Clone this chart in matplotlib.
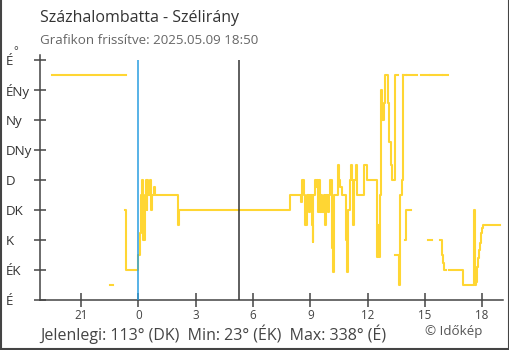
import numpy as np
import matplotlib.pyplot as plt
from matplotlib.lines import Line2D

plt.rcParams['font.family'] = ['Open Sans', 'DejaVu Sans']

nan = np.nan

# wind direction, hours from midnight (negative = previous evening), degrees
dir_a_time = [-4.52, -0.64, nan,
              -1.48, -1.33, nan,
              -0.72, -0.63, 0.00, 0.09, 0.14, 0.19, 0.23, 0.26, 0.34, 0.40,
              0.44, 0.47, 0.51, 0.61, 0.65, 0.66, 0.70, 0.82, 0.87, 2.06,
              2.15, 7.96, 8.50, 8.57, 8.69, 8.75, 8.82, 8.94, 8.99, 9.09,
              9.13, 9.16, 9.25, 9.28, 9.37, 9.41, 9.48, 9.51, 9.57, 9.63,
              9.71, 9.77, 9.82, 9.92, 9.97, 10.04, 10.12, 10.16, 10.21, 10.25,
              10.47, 10.52, 10.56, 10.68, 10.87, 10.94, 10.99, 11.10, 11.15, 11.20,
              11.26, 11.31, 11.40, 11.45, 11.83, 11.99, 12.48, 12.51, 12.53, 12.60,
              12.65, 12.69, 12.72, 12.78, 12.84, 12.89, 12.93, 13.09, 13.14, 13.21,
              13.26, 13.42, 13.45, 13.58, nan,
              13.87, 14.00, nan,
              14.07, 14.61, nan,
              14.82, 15.20, nan,
              15.29, 15.90, nan,
              15.95, 16.20]
dir_a_deg = [338, 338, nan,
             23, 23, nan,
             135, 45, 67.5, 100, 157.5, 180, 157.5, 90, 157.5, 180,
             135, 180, 157.5, 180, 157.5, 135, 157.5, 170, 157.5, 112.5,
             135, 157.5, 147, 180, 157.5, 112.5, 157.5, 132.5, 157.5, 112.5,
             87.5, 157.5, 180, 170, 180, 132.5, 180, 132.5, 157.5, 132.5,
             157.5, 112.5, 157.5, 132.5, 157.5, 180, 157.5, 78, 42.5, 157.5,
             202.5, 180, 170, 157.5, 90, 42.5, 135, 180, 202.5, 180,
             112.5, 180, 202.5, 157.5, 202.5, 180, 135, 65, 112.5, 65,
             157.5, 235, 315, 270, 295, 315, 338, 295, 237, 202.5,
             180, 315, 338, 338, nan,
             338, 338, nan,
             338, 338, nan,
             338, 338, nan,
             338, 338, nan,
             338, 338]

dir_b_time = [13.44, 13.67, 13.70, 13.80, 13.87, nan,
              13.96, 14.03, 14.26, nan,
              15.18, 15.35, nan,
              15.81, 15.92, 15.95, 16.00, 16.09, nan,
              16.28, 16.99, 17.55, 17.62, 17.66, 17.71, 17.74, 17.80, 17.85, 17.89,
              17.94, 17.99, 18.06, 18.94]
dir_b_deg = [67.5, 23, 157.5, 180, 338, nan,
             90, 135, 135, nan,
             90, 90, nan,
             90, 67.5, 56, 45, 45, nan,
             45, 23, 135, 23, 27.5, 40, 50, 62.5, 75, 85,
             100, 107.5, 113, 113]

compass = ['É', 'ÉK', 'K', 'DK', 'D', 'DNy', 'Ny', 'ÉNy', 'É']
compass_deg = [0, 45, 90, 135, 180, 225, 270, 315, 360]
hour_ticks = [-3, 0, 3, 6, 9, 12, 15, 18]
hour_labels = ['21', '0', '3', '6', '9', '12', '15', '18']
sunrise = 5.29


def sector(deg):
    return compass[int(((deg + 22.5) % 360) // 45)]


all_deg = np.array(dir_a_deg + dir_b_deg, dtype=float)
current = dir_b_deg[-1]
lo = np.nanmin(all_deg)
hi = np.nanmax(all_deg)

W, H = 510, 350
fig = plt.figure(figsize=(W / 100, H / 100), dpi=100)
ax = fig.add_axes([40 / W, 1 - 300 / H, (503 - 40) / W, (300 - 55) / H])

yellow = '#ffd633'
ax.plot(dir_a_time, dir_a_deg, drawstyle='steps-post', color=yellow, lw=1.5)
ax.plot(dir_b_time, dir_b_deg, drawstyle='steps-post', color=yellow, lw=1.5)

ax.vlines(0, 0, 360, color='#2a9ee0', lw=1.1, zorder=3)
ax.vlines(sunrise, 0, 360, color='#333333', lw=1.1, zorder=3)

ax.set_xlim(-5.15, 19.09)
ax.set_ylim(0, 367.5)

for s in ['top', 'right']:
    ax.spines[s].set_visible(False)
for s in ['left', 'bottom']:
    ax.spines[s].set_color('#444444')
    ax.spines[s].set_linewidth(1.1)

ax.set_yticks(compass_deg)
ax.set_yticklabels(compass, ha='left')
ax.set_xticks(hour_ticks)
ax.set_xticklabels(hour_labels)
ax.tick_params(axis='y', direction='inout', length=8.6, width=1.1, color='#444444',
               pad=20.2, labelsize=9.6, labelcolor='#333333')
ax.tick_params(axis='x', direction='inout', length=9.4, width=1.1, color='#444444',
               pad=1.5, labelsize=8.4, labelcolor='#444444')
fig.text(13 / W, 1 - 52 / H, '°', fontsize=8, color='#333333', va='center')

fig.text(40 / W, 1 - 18 / H, 'Százhalombatta - Szélirány', fontsize=11.5,
         color='#333333', va='center')
fig.text(40 / W, 1 - 40 / H, 'Grafikon frissítve: 2025.05.09 18:50', fontsize=9.6,
         color='#666666', va='center')
summary = (f'Jelenlegi: {current:.0f}° ({sector(current)})  '
           f'Min: {lo:.0f}° ({sector(lo)})  Max: {hi:.0f}° ({sector(hi)})')
fig.text(40 / W, 1 - 334 / H, summary, fontsize=11.5, color='#444444', va='center')
fig.text(425 / W, 1 - 331 / H, '© Időkép', fontsize=9.6, color='#555555', va='center')

# frame around the picture
for xs, ys in [([0.001, 0.001], [0, 1]), ([0.998, 0.998], [0, 1]), ([0, 1], [0.003, 0.003])]:
    fig.add_artist(Line2D(xs, ys, color='#444444', lw=1.5, transform=fig.transFigure))

fig.savefig('out.png', dpi=100)
